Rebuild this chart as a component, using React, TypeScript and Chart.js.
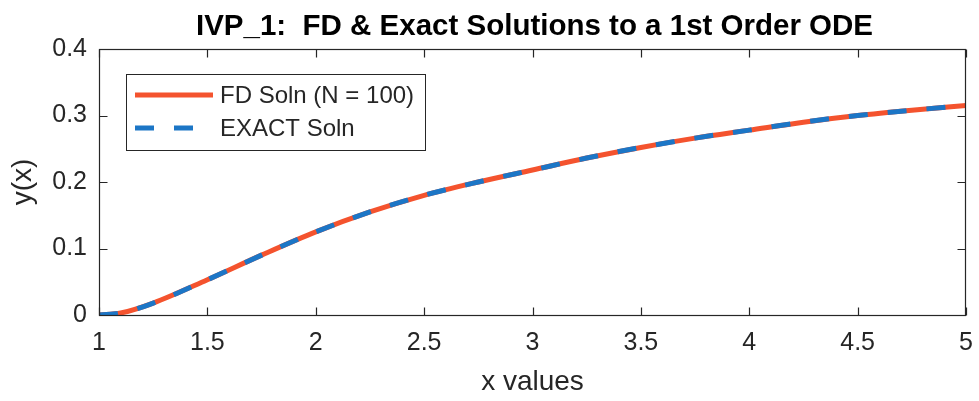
import React, { useEffect, useRef } from "react";
import { Chart, registerables } from "chart.js";

Chart.register(...registerables);

const xValues = [1, 1.1, 1.25, 1.5, 1.75, 2, 2.25, 2.5, 2.75, 3, 3.25, 3.5, 3.75, 4, 4.25, 4.5, 4.75, 5];
const fdSoln = [0, 0.003, 0.018, 0.053, 0.09, 0.125, 0.155, 0.18, 0.2, 0.218, 0.236, 0.252, 0.266, 0.278, 0.29, 0.3, 0.308, 0.315];
const exactSoln = [0, 0.003, 0.018, 0.053, 0.09, 0.125, 0.155, 0.18, 0.2, 0.218, 0.236, 0.252, 0.266, 0.278, 0.29, 0.3, 0.308, 0.315];
const seriesLabels = ["FD Soln (N = 100)", "EXACT Soln"];
const titleText = "IVP_1:  FD & Exact Solutions to a 1st Order ODE";
const xTitle = "x values";
const yTitle = "y(x)";
const xTickValues = [1, 1.5, 2, 2.5, 3, 3.5, 4, 4.5, 5];
const yTickValues = [0, 0.1, 0.2, 0.3, 0.4];

const FONT = "'Liberation Sans', Arial, Helvetica, sans-serif";
const AX = "#262626";
const RED = "#f4532e";
const BLUE = "#1c76c6";

const overlayPlugin = {
  id: "matlabOverlay",
  afterDraw(chart: any) {
    const ctx = chart.ctx;
    const a = chart.chartArea;
    const sx = chart.scales.x;
    const sy = chart.scales.y;
    const ds = chart.data.datasets;
    ctx.save();
    // axes box with inward ticks
    ctx.setLineDash([]);
    ctx.strokeStyle = AX;
    ctx.lineWidth = 1.2;
    const l = Math.round(a.left) + 0.5;
    const t = Math.round(a.top) + 0.5;
    const r = Math.round(a.right) - 0.5;
    const b = Math.round(a.bottom) + 0.5;
    ctx.strokeRect(l, t, r - l, b - t);
    const tl = 8;
    xTickValues.forEach((v) => {
      const px = Math.round(sx.getPixelForValue(v)) + 0.5;
      ctx.beginPath();
      ctx.moveTo(px, b);
      ctx.lineTo(px, b - tl);
      ctx.moveTo(px, t);
      ctx.lineTo(px, t + tl);
      ctx.stroke();
    });
    yTickValues.forEach((v) => {
      const py = Math.round(sy.getPixelForValue(v)) + 0.5;
      ctx.beginPath();
      ctx.moveTo(l, py);
      ctx.lineTo(l + tl, py);
      ctx.moveTo(r, py);
      ctx.lineTo(r - tl, py);
      ctx.stroke();
    });
    // title
    ctx.fillStyle = "#000000";
    ctx.font = `bold 29.5px ${FONT}`;
    ctx.textAlign = "center";
    ctx.textBaseline = "middle";
    ctx.fillText(titleText, (a.left + a.right) / 2 + 2, 27);
    // legend
    const bx = a.left + 27;
    const by = a.top + 25;
    const bw = 299;
    const bh = 76;
    ctx.fillStyle = "#ffffff";
    ctx.fillRect(bx, by, bw, bh);
    ctx.strokeStyle = AX;
    ctx.lineWidth = 1;
    ctx.strokeRect(Math.round(bx) + 0.5, Math.round(by) + 0.5, bw, bh);
    ctx.font = `24px ${FONT}`;
    ctx.textBaseline = "middle";
    ctx.textAlign = "left";
    const rows = [
      { d: ds[0], y: by + 21 },
      { d: ds[1], y: by + 54 },
    ];
    rows.forEach((row) => {
      ctx.beginPath();
      ctx.strokeStyle = row.d.borderColor;
      ctx.lineWidth = row.d.borderWidth;
      ctx.setLineDash(row.d.borderDash || []);
      ctx.moveTo(bx + 9, row.y);
      ctx.lineTo(bx + 87, row.y);
      ctx.stroke();
      ctx.setLineDash([]);
      ctx.fillStyle = AX;
      ctx.fillText(row.d.label, bx + 94, row.y + 1);
    });
    ctx.restore();
  },
};

const fmt = (v: any) => String(Math.round(Number(v) * 100) / 100);

export default function App() {
  const ref = useRef<HTMLCanvasElement | null>(null);
  useEffect(() => {
    if (!ref.current) return;
    const chart = new Chart(ref.current, {
      type: "line",
      data: {
        labels: xValues,
        datasets: [
          {
            label: seriesLabels[0],
            data: xValues.map((x, i) => ({ x, y: fdSoln[i] })),
            borderColor: RED,
            backgroundColor: RED,
            borderWidth: 5,
            pointRadius: 0,
            cubicInterpolationMode: "monotone",
            order: 1,
          },
          {
            label: seriesLabels[1],
            data: xValues.map((x, i) => ({ x, y: exactSoln[i] })),
            borderColor: BLUE,
            backgroundColor: BLUE,
            borderWidth: 5,
            borderDash: [19, 20],
            pointRadius: 0,
            cubicInterpolationMode: "monotone",
            order: 0,
          },
        ],
      },
      options: {
        animation: false,
        responsive: false,
        maintainAspectRatio: false,
        layout: { padding: { left: 0, right: 13, top: 49, bottom: 0 } },
        plugins: {
          legend: { display: false },
          tooltip: { enabled: false },
          title: { display: false },
        },
        scales: {
          x: {
            type: "linear",
            min: 1,
            max: 5,
            grid: { display: false, drawTicks: false },
            border: { display: false },
            ticks: { stepSize: 0.5, color: AX, font: { family: FONT, size: 25 }, padding: 13, maxRotation: 0, callback: fmt },
            title: { display: true, text: xTitle, color: AX, font: { family: FONT, size: 28 }, padding: { top: 0, bottom: 2 } },
            afterFit(s: any) {
              s.height = 86;
              s.paddingLeft = 0;
              s.paddingRight = 0;
            },
          },
          y: {
            type: "linear",
            min: 0,
            max: 0.4,
            grid: { display: false, drawTicks: false },
            border: { display: false },
            ticks: { stepSize: 0.1, color: AX, font: { family: FONT, size: 25 }, padding: 12, callback: fmt },
            title: { display: true, text: yTitle, color: AX, font: { family: FONT, size: 28 }, padding: { top: 6, bottom: 0 } },
            afterFit(s: any) {
              s.width = 99;
              s.paddingTop = 0;
              s.paddingBottom = 0;
            },
          },
        },
      } as any,
      plugins: [overlayPlugin],
    });
    return () => chart.destroy();
  }, []);
  return (
    <div style={{ position: "fixed", left: 0, top: 0, width: 979, height: 401, background: "#fff" }}>
      <canvas ref={ref} width={979} height={401} style={{ width: 979, height: 401 }} />
    </div>
  );
}
